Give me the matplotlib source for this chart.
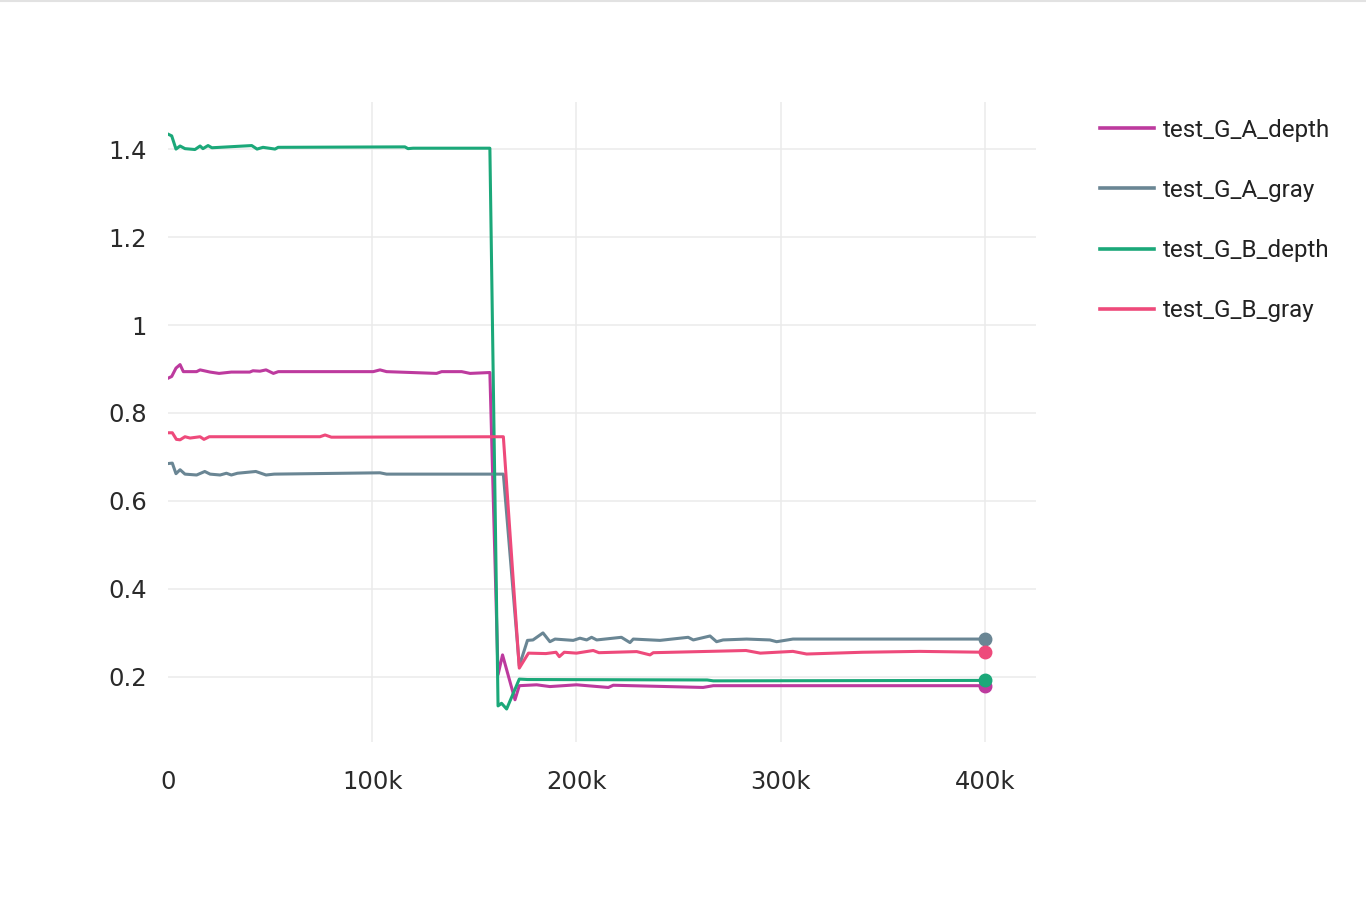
import matplotlib
matplotlib.use("Agg")
import matplotlib.pyplot as plt
from matplotlib.lines import Line2D

# ----- data (steps in thousands) -----
a_depth_x = [0, 1.8, 3.9, 5.9, 7.5, 14, 15.7, 20.6, 25, 31, 40, 41.6, 45, 48, 51.6, 54,
             100.5, 103.8, 107, 131.5, 134, 143.8, 147.9, 157.6,
             161.6, 163.8, 169.9, 172, 180.5, 187, 200, 215.6, 218, 262, 267, 400]
a_depth_y = [0.879, 0.883, 0.902, 0.910, 0.894, 0.894, 0.898, 0.893, 0.890, 0.893, 0.893,
             0.896, 0.895, 0.898, 0.890, 0.894, 0.894, 0.898, 0.894, 0.890, 0.894, 0.894,
             0.890, 0.892, 0.205, 0.250, 0.148, 0.180, 0.182, 0.178, 0.182, 0.176, 0.181,
             0.176, 0.180, 0.180]

a_gray_x = [0, 2.1, 3.9, 5.9, 8.3, 14, 18, 20.6, 25.5, 28.6, 31, 34, 43, 48, 52,
            103.8, 107, 164.2, 172, 176, 178.7, 183.6, 187, 189.5, 198.4, 201.7, 205,
            207.4, 209.9, 222, 226.2, 227.8, 240.9, 254.7, 257.2, 265.4, 268.6, 271.8,
            283.3, 294.7, 298, 306, 400]
a_gray_y = [0.685, 0.686, 0.662, 0.671, 0.661, 0.659, 0.667, 0.661, 0.659, 0.663, 0.659,
            0.663, 0.667, 0.659, 0.661, 0.664, 0.661, 0.661, 0.225, 0.283, 0.284, 0.300,
            0.280, 0.286, 0.283, 0.288, 0.284, 0.290, 0.284, 0.290, 0.278, 0.286, 0.283,
            0.290, 0.284, 0.293, 0.280, 0.284, 0.286, 0.284, 0.280, 0.286, 0.286]

b_depth_x = [0, 1.8, 3.9, 5.9, 8.3, 13.2, 15.7, 17.1, 19.6, 21.5, 41, 43.6, 46.5, 52.4,
             53.9, 116, 117.5, 120, 157.6, 161.6, 163.3, 165.8, 172, 176, 264, 267, 400]
b_depth_y = [1.434, 1.430, 1.400, 1.407, 1.401, 1.399, 1.407, 1.401, 1.408, 1.403, 1.408,
             1.400, 1.404, 1.400, 1.404, 1.405, 1.401, 1.402, 1.402, 0.134, 0.140, 0.127,
             0.195, 0.194, 0.193, 0.191, 0.192]

b_gray_x = [0, 2.1, 4.1, 5.9, 8.3, 10.8, 15.7, 17.6, 20.2, 74.4, 76.9, 80, 164.2, 172,
            176.5, 185, 190, 191.6, 194, 200, 208.2, 211, 229.5, 236, 237.6, 283, 290,
            306, 312.7, 340, 368, 400]
b_gray_y = [0.755, 0.755, 0.740, 0.739, 0.746, 0.743, 0.746, 0.740, 0.746, 0.746, 0.750,
            0.745, 0.746, 0.220, 0.254, 0.253, 0.256, 0.246, 0.256, 0.254, 0.260, 0.255,
            0.2575, 0.250, 0.255, 0.260, 0.254, 0.258, 0.252, 0.256, 0.258, 0.256]

labels = ["test_G_A_depth", "test_G_A_gray", "test_G_B_depth", "test_G_B_gray"]
colors = ["#bd3a9e", "#6a8694", "#1ba879", "#ee4a7b"]
x_ticks = [0, 100, 200, 300, 400]
x_tick_labels = ["0", "100k", "200k", "300k", "400k"]
y_ticks = [0.2, 0.4, 0.6, 0.8, 1.0, 1.2, 1.4]
y_tick_labels = ["0.2", "0.4", "0.6", "0.8", "1", "1.2", "1.4"]

series = [(a_depth_x, a_depth_y), (a_gray_x, a_gray_y),
          (b_depth_x, b_depth_y), (b_gray_x, b_gray_y)]

fig = plt.figure(figsize=(13.66, 9.02), dpi=100)
ax = fig.add_axes([0.123, 0.1774, 0.6354, 0.7095])

for (xs, ys), color in zip(series, colors):
    ax.plot(xs, ys, color=color, lw=2.2, solid_joinstyle="round", zorder=3)
    ax.plot(xs[-1], ys[-1], "o", color=color, markersize=9, zorder=4)

ax.set_xlim(0, 425)
ax.set_ylim(0.052, 1.507)
ax.set_xticks(x_ticks)
ax.set_xticklabels(x_tick_labels)
ax.set_yticks(y_ticks)
ax.set_yticklabels(y_tick_labels)
ax.grid(True, color="#ebebeb", lw=1.1, zorder=0)
ax.xaxis.get_gridlines()[0].set_visible(False)
for s in ax.spines.values():
    s.set_visible(False)
ax.tick_params(axis="both", length=0, labelsize=17.5, labelcolor="#2a2a2a")
ax.tick_params(axis="y", pad=15)
ax.tick_params(axis="x", pad=20)

handles = [Line2D([0], [0], color=c, lw=2.6) for c in colors]
leg = fig.legend(handles, labels, loc="upper left", bbox_to_anchor=(0.789, 0.8925),
                 frameon=False, handlelength=2.27, handletextpad=0.37,
                 labelspacing=1.54, prop={"family": "Roboto", "size": 17.4})
for t in leg.get_texts():
    t.set_color("#222222")

# thin border at top of card
fig.add_artist(Line2D([0, 1], [0.999, 0.999], color="#e2e2e2", lw=1.5,
                      transform=fig.transFigure))

fig.savefig("out.png", dpi=100)
